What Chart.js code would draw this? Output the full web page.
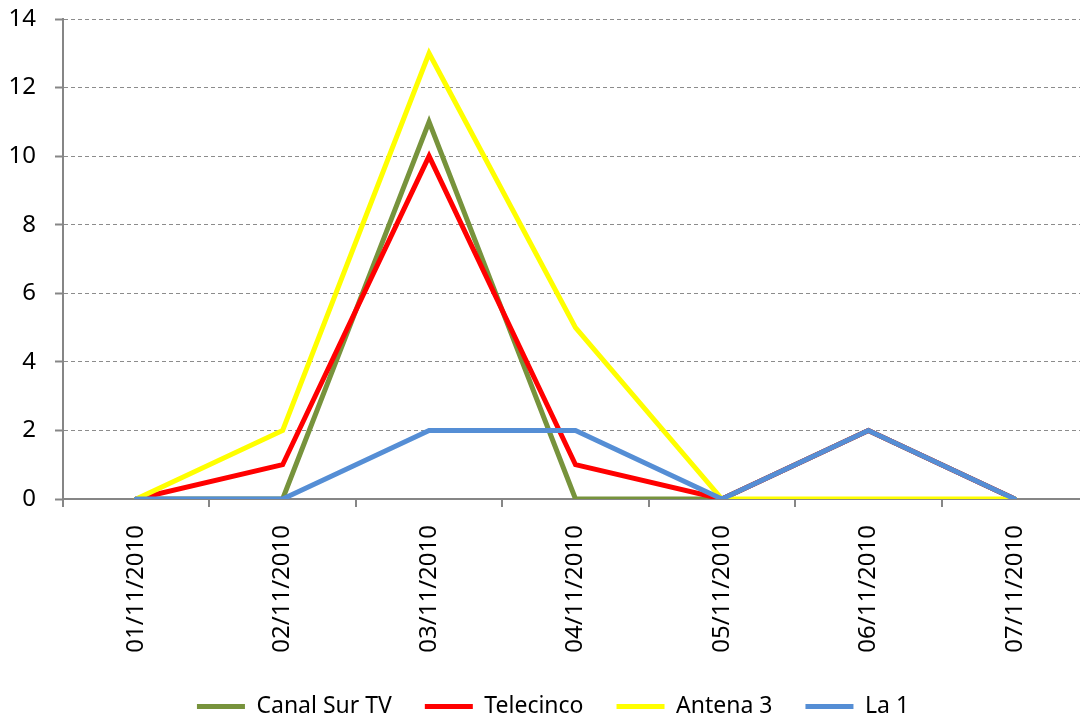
<!DOCTYPE html>
<html>
<head>
<meta charset="utf-8">
<script src="https://cdn.jsdelivr.net/npm/chart.js@4/dist/chart.umd.min.js"></script>
<style>
  html, body { margin: 0; padding: 0; background: #fff; overflow: hidden; }
  #wrap { width: 1088px; height: 728px; }
</style>
</head>
<body>
<div id="wrap"><canvas id="c" width="1088" height="728"></canvas></div>
<script>
const categories = ["01/11/2010", "02/11/2010", "03/11/2010", "04/11/2010", "05/11/2010", "06/11/2010", "07/11/2010"];
const canalSurTV = [0, 0, 11, 0, 0, 2, 0];
const telecinco = [0, 1, 10, 1, 0, 2, 0];
const antena3 = [0, 2, 13, 5, 0, 0, 0];
const la1 = [0, 0, 2, 2, 0, 2, 0];
const yTicks = [0, 2, 4, 6, 8, 10, 12, 14];

const FONT = "'Noto Sans', 'Open Sans', sans-serif";
const AXIS = '#868686';

function ds(label, data, color, order) {
  return {
    label, data,
    borderColor: color, backgroundColor: color,
    borderWidth: 5, pointRadius: 0, pointHoverRadius: 0,
    tension: 0, borderJoinStyle: 'miter', borderCapStyle: 'round',
    fill: false, order
  };
}

const legendShift = {
  id: 'legendShift',
  afterLayout(chart) {
    if (chart.legend) { chart.legend.left += 9; chart.legend.right += 9; }
  }
};

new Chart(document.getElementById('c'), {
  type: 'line',
  data: {
    labels: categories,
    datasets: [
      ds('Canal Sur TV', canalSurTV, '#77933C', 4),
      ds('Telecinco', telecinco, '#FF0000', 3),
      ds('Antena 3', antena3, '#FFFF00', 2),
      ds('La 1', la1, '#558ED5', 1)
    ]
  },
  plugins: [legendShift],
  options: {
    responsive: false,
    animation: false,
    devicePixelRatio: 1,
    layout: { padding: { top: 19, right: 0, bottom: 0, left: 0 } },
    plugins: {
      tooltip: { enabled: false },
      legend: {
        position: 'bottom',
        labels: {
          color: '#000',
          font: { family: FONT, size: 23 },
          boxWidth: 48,
          boxHeight: 5,
          padding: 33,
          sort: (a, b) => a.datasetIndex - b.datasetIndex,
          generateLabels: (chart) => {
            const items = Chart.defaults.plugins.legend.labels.generateLabels(chart);
            items.forEach(it => {
              const d = chart.data.datasets[it.datasetIndex];
              it.fillStyle = d.borderColor;
              it.strokeStyle = d.borderColor;
              it.lineWidth = 0;
            });
            return items;
          }
        }
      }
    },
    scales: {
      x: {
        offset: true,
        grid: { offset: true, drawOnChartArea: false, drawTicks: true, tickLength: 8, color: AXIS, lineWidth: 2 },
        border: { display: true, color: AXIS, width: 2 },
        ticks: {
          color: '#000', font: { family: FONT, size: 24 },
          minRotation: 90, maxRotation: 90, padding: 18, autoSkip: false
        },
        afterFit: (s) => { s.height = 163; s.paddingLeft = 0; s.paddingRight = 0; }
      },
      y: {
        min: 0, max: 14,
        afterBuildTicks: (s) => { s.ticks = yTicks.map(v => ({ value: v })); },
        grid: { color: '#8c8c8c', lineWidth: 1, tickLength: 8, tickColor: AXIS, tickWidth: 2 },
        border: {
          display: true, color: AXIS, width: 2,
          dash: (ctx) => (ctx.tick && ctx.tick.value === 0) ? [] : [4, 3]
        },
        ticks: { color: '#000', font: { family: FONT, size: 24 }, padding: 19 },
        afterFit: (s) => { s.width = 63; s.paddingTop = 0; s.paddingBottom = 0; }
      }
    }
  }
});
</script>
</body>
</html>
